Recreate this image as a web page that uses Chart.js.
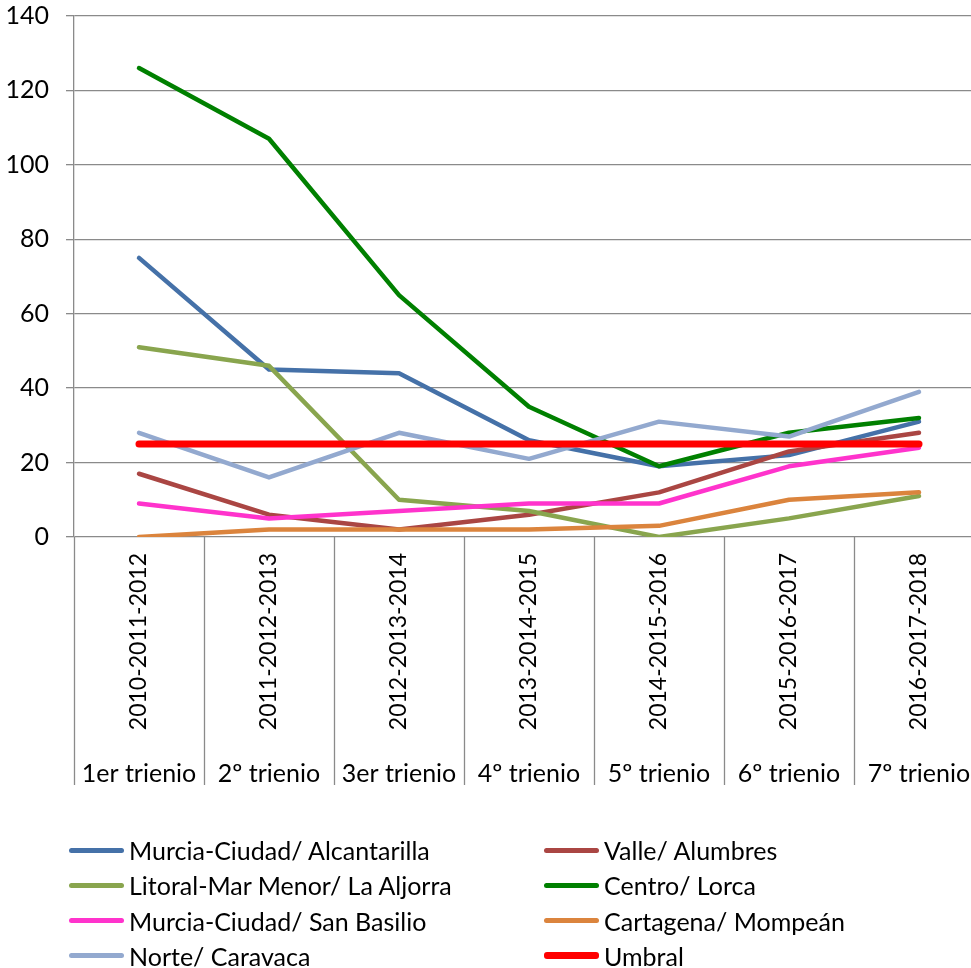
<!DOCTYPE html>
<html>
<head>
<meta charset="utf-8">
<script src="https://cdn.jsdelivr.net/npm/chart.js@4.4.1/dist/chart.umd.min.js"></script>
<style>
  html, body { margin: 0; padding: 0; background: #fff; overflow: hidden; }
  #wrap { position: relative; width: 1000px; height: 968px; }
  #legend { position: absolute; left: 0; top: 0; width: 1000px; height: 968px; pointer-events: none;
            font-family: Lato, Carlito, sans-serif; font-size: 25px; color: #000; }
  .item { position: absolute; display: flex; align-items: center; height: 34px; white-space: nowrap; }
  .swatch { width: 55px; border-radius: 3px; margin-right: 5px; }
</style>
</head>
<body>
<div id="wrap">
  <canvas id="lineChart" width="1000" height="968"></canvas>
  <div id="legend"></div>
</div>
<script>
// categories: years of each three-year period and period name
let years = ['2010-2011-2012', '2011-2012-2013', '2012-2013-2014', '2013-2014-2015',
             '2014-2015-2016', '2015-2016-2017', '2016-2017-2018'];
let trienios = ['1er trienio', '2º trienio', '3er trienio', '4º trienio',
                '5º trienio', '6º trienio', '7º trienio'];

// series
let murciaAlcantarilla = [75, 45, 44, 26, 19, 22, 31];
let valleAlumbres = [17, 6, 2, 6, 12, 23, 28];
let litoralAljorra = [51, 46, 10, 7, 0, 5, 11];
let centroLorca = [126, 107, 65, 35, 19, 28, 32];
let murciaSanBasilio = [9, 5, 7, 9, 9, 19, 24];
let cartagenaMompean = [0, 2, 2, 2, 3, 10, 12];
let norteCaravaca = [28, 16, 28, 21, 31, 27, 39];
let umbral = [25, 25, 25, 25, 25, 25, 25];

// y axis ticks
let yTicks = [0, 20, 40, 60, 80, 100, 120, 140];

let seriesLabels = ['Murcia-Ciudad/ Alcantarilla', 'Valle/ Alumbres', 'Litoral-Mar Menor/ La Aljorra',
                    'Centro/ Lorca', 'Murcia-Ciudad/ San Basilio', 'Cartagena/ Mompeán',
                    'Norte/ Caravaca', 'Umbral'];
let seriesData = [murciaAlcantarilla, valleAlumbres, litoralAljorra, centroLorca,
                  murciaSanBasilio, cartagenaMompean, norteCaravaca, umbral];
let seriesColors = ['#4571A8', '#AA4643', '#89A54E', '#008000',
                    '#FF33CC', '#DB843D', '#93A9CF', '#FF0000'];

let fontFamily = 'Lato, Carlito, sans-serif';
Chart.defaults.font.family = fontFamily;
Chart.defaults.color = '#000';

let gridColor = '#8a8a8a';

let datasets = [];
for (i = 0; i < seriesData.length; i++) {
    let isUmbral = seriesLabels[i] === 'Umbral';
    datasets.push({
        label: seriesLabels[i],
        data: seriesData[i],
        borderColor: seriesColors[i],
        backgroundColor: seriesColors[i],
        borderWidth: isUmbral ? 7 : 4.5,
        borderCapStyle: 'round',
        borderJoinStyle: 'round',
        pointRadius: 0,
        tension: 0,
        // later series sit on top
        order: seriesData.length - i
    });
}

// category separators running down through both label rows
const separators = {
    id: 'separators',
    afterDraw(chart) {
        let x = chart.scales.x, x2 = chart.scales.x2;
        let ctx = chart.ctx;
        let half = (x.getPixelForValue(1) - x.getPixelForValue(0)) / 2;
        ctx.save();
        ctx.strokeStyle = gridColor;
        ctx.lineWidth = 1.3;
        ctx.beginPath();
        for (let k = 0; k <= years.length; k++) {
            let px = Math.round(x.getPixelForValue(0) - half + k * 2 * half) + 0.5;
            ctx.moveTo(px, chart.chartArea.bottom);
            ctx.lineTo(px, x2.bottom);
        }
        ctx.stroke();
        ctx.restore();
    }
};

let lineChartCtx = document.getElementById('lineChart').getContext('2d');
let lineChart = new Chart(lineChartCtx, {
    type: 'line',
    data: {
        labels: years,
        datasets: datasets
    },
    options: {
        responsive: false,
        animation: false,
        layout: { padding: { top: 0, right: 16, bottom: 183, left: 0 } },
        plugins: { legend: { display: false }, tooltip: { enabled: false } },
        scales: {
            y: {
                min: 0,
                max: 140,
                afterBuildTicks: (s) => { s.ticks = yTicks.map(v => ({ value: v })); },
                afterFit: (s) => { s.width = 74; s.paddingTop = 16; s.paddingBottom = 0; },
                ticks: { padding: 17, font: { size: 25 } },
                grid: { color: gridColor, lineWidth: 1.3, tickLength: 8, drawTicks: true },
                border: { display: true, color: gridColor, width: 1.3 }
            },
            x: {
                offset: true,
                weight: 0,
                afterFit: (s) => { s.height = 200; },
                ticks: { minRotation: 90, maxRotation: 90, autoSkip: false, padding: 16, font: { size: 23 } },
                grid: { display: false, drawTicks: false },
                border: { display: false }
            },
            x2: {
                type: 'category',
                position: 'bottom',
                labels: trienios,
                offset: true,
                weight: 1,
                afterFit: (s) => { s.height = 48; },
                ticks: { maxRotation: 0, autoSkip: false, padding: 22, font: { size: 25 } },
                grid: { display: false, drawTicks: false },
                border: { display: false }
            }
        }
    },
    plugins: [separators]
});

// two-column legend under the chart
let legendEl = document.getElementById('legend');
lineChart.data.datasets.forEach((ds, idx) => {
    let col = idx % 2, row = Math.floor(idx / 2);
    let item = document.createElement('div');
    item.className = 'item';
    item.style.left = (col === 0 ? 69 : 544) + 'px';
    item.style.top = (833 + row * 35.3) + 'px';
    let sw = document.createElement('div');
    sw.className = 'swatch';
    sw.style.height = (ds.label === 'Umbral' ? 7 : 5) + 'px';
    sw.style.background = ds.borderColor;
    let txt = document.createElement('span');
    txt.textContent = ds.label;
    item.appendChild(sw);
    item.appendChild(txt);
    legendEl.appendChild(item);
});
</script>
</body>
</html>
